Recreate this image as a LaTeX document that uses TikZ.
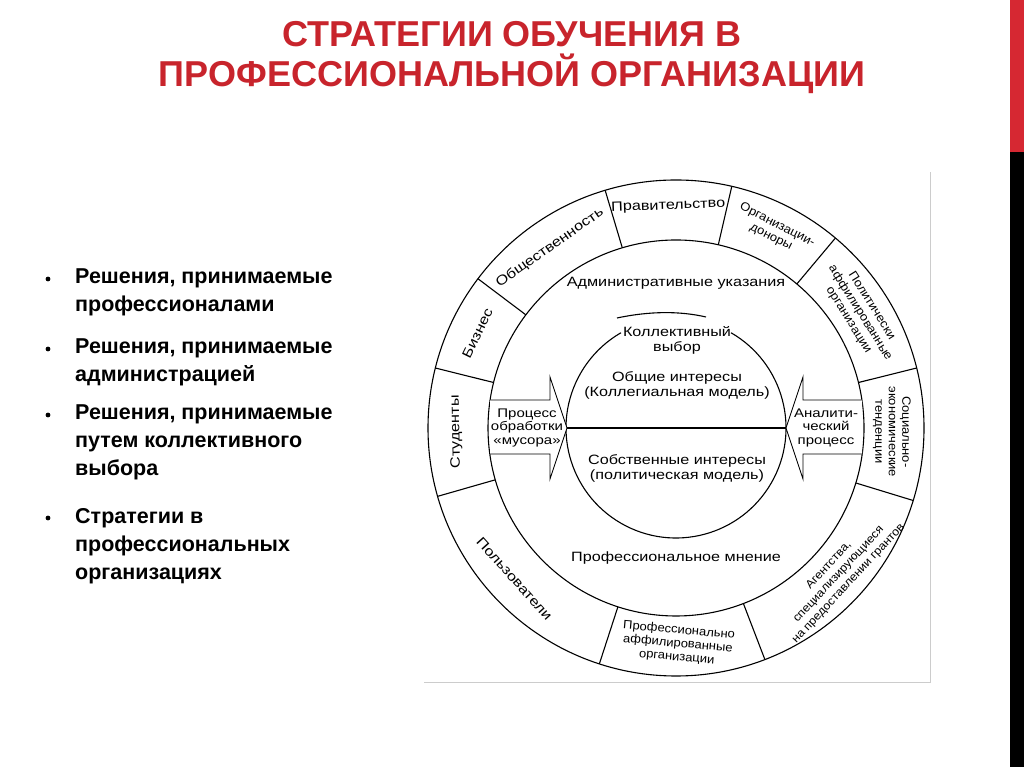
\documentclass[tikz,border=0pt]{standalone}
\usepackage{fontspec}
\setmainfont{Liberation Sans}
\newfontfamily\widefont[FakeStretch=1.2]{Liberation Sans}
\newfontfamily\midfont[FakeStretch=1.08]{Liberation Sans}
\definecolor{titlered}{RGB}{200,36,44}
\definecolor{barred}{RGB}{214,40,50}
\tikzset{
  lbl/.style={font=\widefont\fontsize{13.5}{15}\selectfont, align=center, inner sep=0pt},
  small/.style={font=\midfont\fontsize{12}{13.5}\selectfont},
  bul/.style={font=\bfseries\fontsize{21.5}{28}\selectfont, align=left, anchor=north west, inner sep=0pt},
  arr/.style={draw, line width=0.9pt, fill=white},
  ln/.style={line width=1.1pt}
}
\begin{document}
\begin{tikzpicture}[x=1pt,y=1pt]
\useasboundingbox (0,0) rectangle (1024,767);
\fill[white] (0,0) rectangle (1024,767);
% side bar
\fill[barred] (1010,615) rectangle (1024,767);
\fill[black] (1010,0) rectangle (1024,615);
% title
\node[font=\bfseries\fontsize{36}{40}\selectfont, text=titlered, align=center] (title) at (512,709) {СТРАТЕГИИ ОБУЧЕНИЯ В\\ПРОФЕССИОНАЛЬНОЙ ОРГАНИЗАЦИИ};
% bullets
\node[bul] (b1) at (75,498) {Решения, принимаемые\\профессионалами};
\node[bul] (b2) at (75,428) {Решения, принимаемые\\администрацией};
\node[bul] (b3) at (75,362) {Решения, принимаемые\\путем коллективного\\выбора};
\node[bul] (b4) at (75,259) {Стратегии в\\профессиональных\\организациях};
\foreach \y in {488,418,352,249} \fill (48,\y) circle (2.4);
% picture frame
\draw[gray!40, line width=0.8pt] (424,85) -- (930,85) -- (930,595);
% circles
\coordinate (C) at (676,339);
\draw[ln] (C) circle (248);
\draw[ln] (C) circle (188);
% dividers
\foreach \a in {106.6,77,50,14,-17,-69,-108,196,166,143}
  \draw[ln] ([shift={(\a:188)}]C) -- ([shift={(\a:248)}]C);
% inner circle with gap
\draw[ln] ([shift={(60:110)}]C) arc (60:-240:110);
\draw[ln] (617,449) .. controls (650,456) and (680,456) .. (706,450);
\draw[ln] ([shift={(180:110)}]C) -- ([shift={(0:110)}]C);
% arrows
\draw[arr] (490,367) -- (550,367) -- (550,390) -- (567,339) -- (550,288) -- (550,313) -- (490,313);
\draw[arr] (862,367) -- (803,367) -- (803,390) -- (786,339) -- (803,288) -- (803,313) -- (862,313);
\node[lbl, font=\widefont\fontsize{12.5}{13.5}\selectfont] (la) at (527,339) {Процесс\\обработки\\«мусора»};
\node[lbl, font=\widefont\fontsize{12.5}{13.5}\selectfont] (ra) at (826,339) {Аналити-\\ческий\\процесс};
% inner texts
\node[lbl] (adm) at (676,484) {Административные указания};
\node[lbl] (prof) at (676,209) {Профессиональное мнение};
\node[lbl] (kol) at (677,427) {Коллективный\\выбор};
\node[lbl] (obs) at (677,382) {Общие интересы\\(Коллегиальная модель)};
\node[lbl] (sob) at (677,299) {Собственные интересы\\(политическая модель)};
% ring labels
\node[lbl, rotate=2] (g1) at ([shift={(92:222)}]C) {Правительство};
\node[lbl, rotate=35] (g2) at ([shift={(125:220)}]C) {Общественность};
\node[lbl, rotate=64] (g3) at ([shift={(154.5:220)}]C) {Бизнес};
\node[lbl, rotate=91] (g4) at ([shift={(181:220)}]C) {Студенты};
\node[lbl, rotate=-48] (g5) at ([shift={(223:221)}]C) {Пользователи};
\node[lbl, small, rotate=-5] (g6) at ([shift={(-89.5:216)}]C) {Профессионально\\аффилированные\\организации};
\node[lbl, rotate=47, font=\midfont\fontsize{11.5}{13.5}\selectfont] (g7) at ([shift={(-42:219)}]C) {Агентства,\\специализирующиеся\\на предоставлении грантов};
\node[lbl, small, rotate=-90] (g8) at ([shift={(-1:216)}]C) {Социально-\\экономические\\тенденции};
\node[lbl, small, rotate=-58] (g9) at ([shift={(32:217)}]C) {Политически\\аффилированные\\организации};
\node[lbl, small, rotate=-27] (g10) at ([shift={(63.5:220)}]C) {Организации-\\доноры};
\end{tikzpicture}
\end{document}
